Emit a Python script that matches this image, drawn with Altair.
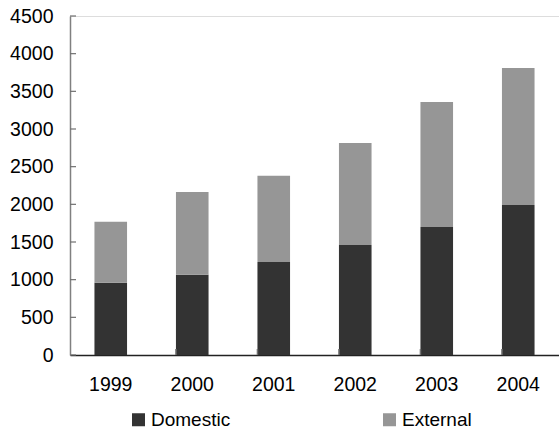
import altair as alt
import pandas as pd

# Annual values by source
years = ["1999", "2000", "2001", "2002", "2003", "2004"]
domestic = [960, 1065, 1235, 1460, 1700, 1990]
external = [810, 1100, 1145, 1355, 1660, 1820]
series = ["Domestic", "External"]
colors = ["#333333", "#969696"]
y_ticks = [0, 500, 1000, 1500, 2000, 2500, 3000, 3500, 4000, 4500]

rows = []
for i, yr in enumerate(years):
    rows.append({"year": yr, "source": "Domestic", "value": domestic[i], "order": 0})
    rows.append({"year": yr, "source": "External", "value": external[i], "order": 1})
df = pd.DataFrame(rows)

FONT = "Liberation Sans"
FS = 19.5
W, H = 489, 339

x_scale = alt.Scale(domain=years, paddingInner=0.6, paddingOuter=0.3)
y_scale = alt.Scale(domain=[0, 4500], nice=False)

# Shared axis definitions so every layer merges into the same axes
x_axis = alt.Axis(title=None, labelAngle=0, ticks=False, domain=True,
                  domainColor="#222222", domainWidth=1.5,
                  labelPadding=20, labelFontSize=FS, labelFont=FONT,
                  labelColor="#000000")
y_axis = alt.Axis(title=None, values=y_ticks, format="d", grid=False,
                  ticks=False, labelOverlap=False,
                  domainColor="#808080", domainWidth=1.5,
                  labelPadding=17, labelFontSize=FS, labelFont=FONT,
                  labelColor="#000000")

bars = alt.Chart(df).mark_bar().encode(
    x=alt.X("year:N", scale=x_scale, sort=years, axis=x_axis),
    y=alt.Y("value:Q", stack="zero", scale=y_scale, axis=y_axis),
    color=alt.Color("source:N", scale=alt.Scale(domain=series, range=colors),
                    legend=alt.Legend(title=None, orient="none", legendX=59, legendY=394,
                                      direction="horizontal", symbolType="square",
                                      symbolSize=169, symbolStrokeWidth=0,
                                      symbolOpacity=1, labelFontSize=19,
                                      labelFont=FONT, labelColor="#000000",
                                      labelOffset=3, columnPadding=149)),
    order=alt.Order("order:Q"),
)

# Inward tick marks on the value axis
ytick_df = pd.DataFrame({"v": y_ticks})
yticks = alt.Chart(ytick_df).mark_rule(color="#707070", strokeWidth=1.2).encode(
    y=alt.Y("v:Q", scale=y_scale, axis=y_axis),
    x=alt.value(0),
    x2=alt.value(6),
)

# Upward tick marks between the year categories
xtick_df = pd.DataFrame({"year": years[1:]})
xticks = alt.Chart(xtick_df).mark_rule(color="#707070", strokeWidth=1.5).encode(
    x=alt.X("year:N", scale=x_scale, sort=years, bandPosition=0, axis=x_axis),
    y=alt.value(H - 6),
    y2=alt.value(H),
)

chart = alt.layer(bars, yticks, xticks).properties(
    width=W, height=H,
    autosize=alt.AutoSizeParams(type="none"),
    padding={"left": 70, "top": 16, "right": 0, "bottom": 74},
).configure_view(stroke=None).configure(background="white")

chart.save("out.html", embed_options={"renderer": "svg", "actions": False})
